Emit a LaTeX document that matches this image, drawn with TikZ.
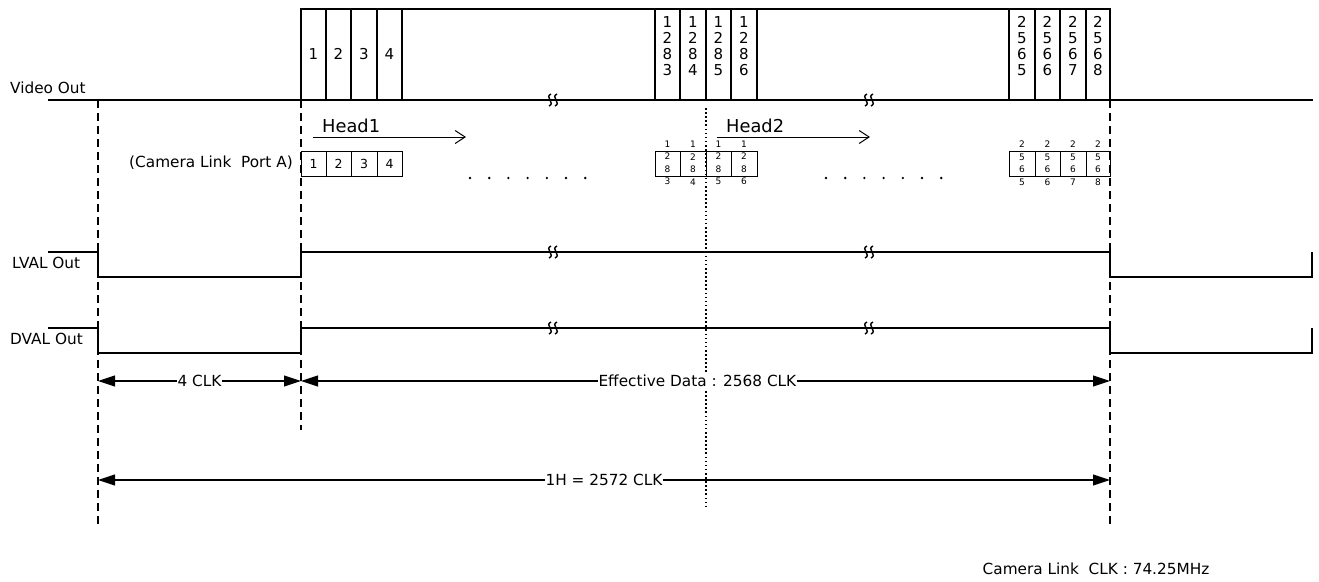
\documentclass[tikz,border=0pt]{standalone}
\usepackage{fontspec}
\setmainfont{DejaVu Sans}
\usetikzlibrary{arrows.meta}
\newcommand\wbreak[2]{%
  \foreach \o in {-3,3}{%
    \draw[line width=1.4pt] ({#1+\o+1},{#2-6}) .. controls ({#1+\o-6},{#2-3}) and ({#1+\o+6},{#2+3}) .. ({#1+\o-1},{#2+6});}}
\begin{document}
\begin{tikzpicture}[x=1pt,y=-1pt,
  sig/.style={line width=1.2pt},
  thin/.style={line width=0.9pt},
  bnd/.style={line width=1.9pt, dash pattern=on 8pt off 5pt},
  dotl/.style={line width=1.6pt, dash pattern=on 1.6pt off 2.5pt},
  dim/.style={line width=1.1pt, {Triangle[length=17pt,width=11pt]}-{Triangle[length=17pt,width=11pt]}},
  lbl/.style={font=\fontsize{15.3}{18}\selectfont, inner sep=0pt},
  dimlbl/.style={font=\fontsize{15.3}{18}\selectfont, fill=white, inner sep=1pt},
  headlbl/.style={font=\fontsize{17.8}{20}\selectfont, inner sep=0pt},
  bigd/.style={font=\fontsize{15}{16}\selectfont, align=center, inner sep=0pt},
  midd/.style={font=\fontsize{12.5}{14}\selectfont, inner sep=0pt},
  tinyd/.style={font=\fontsize{9}{12.5}\selectfont, align=center, inner sep=0pt},
  harrow/.style={line width=1pt, -{Straight Barb[length=10pt,width=13pt]}}]
\useasboundingbox (0,0) rectangle (1319,581);

% boundary coordinates
\coordinate (A0) at (98,100);  \coordinate (A1) at (98,526);
\coordinate (B0) at (301,100); \coordinate (B1) at (301,430);
\coordinate (C0) at (1110,100);\coordinate (C1) at (1110,526);
\coordinate (D0) at (706,108); \coordinate (D1) at (706,506);

% Video Out
\draw[sig] (48,100) -- (1313,100);
\draw[sig] (301,9) rectangle (1110,100);
\foreach \x in {326,351,377,402,655,680,706,731,757,1009,1035,1060,1086}
  \draw[sig] (\x,9) -- (\x,100);
\node[lbl, anchor=base west] (vout) at (10,93) {Video Out};
\foreach \x/\t [count=\i] in {313.5/1,338.5/2,364/3,389.5/4}
  \node[bigd] (va\i) at (\x,54) {\t};
\foreach \x/\t [count=\i] in {667.5/3,693/4,718.5/5,744/6}
  \node[bigd] (vb\i) at (\x,46) {1\\2\\8\\\t};
\foreach \x/\t [count=\i] in {1022/5,1047.5/6,1073/7,1098/8}
  \node[bigd] (vc\i) at (\x,46) {2\\5\\6\\\t};

% boundaries
\draw[bnd] (A0) -- (A1);
\draw[bnd] (B0) -- (B1);
\draw[bnd] (C0) -- (C1);
\draw[dotl] (D0) -- (D1);

% Heads
\node[headlbl, anchor=base west] (h1) at (322,132) {Head1};
\node[headlbl, anchor=base west] (h2) at (726,132) {Head2};
\coordinate (h1s) at (313,137); \coordinate (h1e) at (466,137);
\coordinate (h2s) at (717,137); \coordinate (h2e) at (870,137);
\draw[harrow] (h1s) -- (h1e);
\draw[harrow] (h2s) -- (h2e);

% Camera Link Port A
\node[lbl, anchor=base east] (porta) at (293,167.5) {(Camera Link\ \ Port A)};
\draw[thin] (301,151) rectangle (402,176);
\foreach \x in {326,351,377} \draw[thin] (\x,151) -- (\x,176);
\foreach \x/\t [count=\i] in {313.5/1,338.5/2,364/3,389.5/4}
  \node[midd] (pa\i) at (\x,163.5) {\t};
\draw[thin] (655,151) rectangle (757,176);
\foreach \x in {680,706,731} \draw[thin] (\x,151) -- (\x,176);
\foreach \x/\t [count=\i] in {667.5/3,693/4,718.5/5,744/6}
  \node[tinyd] (pb\i) at (\x,163) {1\\2\\8\\\t};
\draw[thin] (1009,151) rectangle (1110,176);
\foreach \x in {1035,1060,1086} \draw[thin] (\x,151) -- (\x,176);
\foreach \x/\t [count=\i] in {1022/5,1047.5/6,1073/7,1098/8}
  \node[tinyd] (pc\i) at (\x,163) {2\\5\\6\\\t};
\foreach \i in {0,...,6} {
  \fill ({470+19.2*\i},178) circle (1.3);
  \fill ({826+19.2*\i},178) circle (1.3);
}

% LVAL / DVAL
\node[lbl, anchor=base west] (lval) at (12,268.5) {LVAL Out};
\draw[sig] (48,252) -- (98,252) -- (98,277) -- (301,277) -- (301,252) -- (1110,252) -- (1110,277) -- (1312,277) -- (1312,252);
\node[lbl, anchor=base west] (dval) at (10,344.5) {DVAL Out};
\draw[sig] (48,328) -- (98,328) -- (98,353) -- (301,353) -- (301,328) -- (1110,328) -- (1110,353) -- (1312,353) -- (1312,328);

% breaks
\foreach \y in {100,252,328} { \wbreak{553}{\y} \wbreak{869}{\y} }

% dimensions
\coordinate (m1) at (98,381);  \coordinate (m2) at (301,381); \coordinate (m3) at (1110,381);
\coordinate (n1) at (98,480);  \coordinate (n2) at (1110,480);
\draw[dim] (m1) -- (m2) node[midway, dimlbl] (clk4) {4 CLK};
\draw[dim] (m2) -- (m3) node[pos=0.49, dimlbl] (eff) {Effective Data : 2568 CLK};
\draw[dim] (n1) -- (n2) node[midway, dimlbl] (oneh) {1H = 2572 CLK};

\node[lbl, anchor=base] (clk) at (1096,574) {Camera Link\ \ CLK : 74.25MHz};
\end{tikzpicture}
\end{document}
